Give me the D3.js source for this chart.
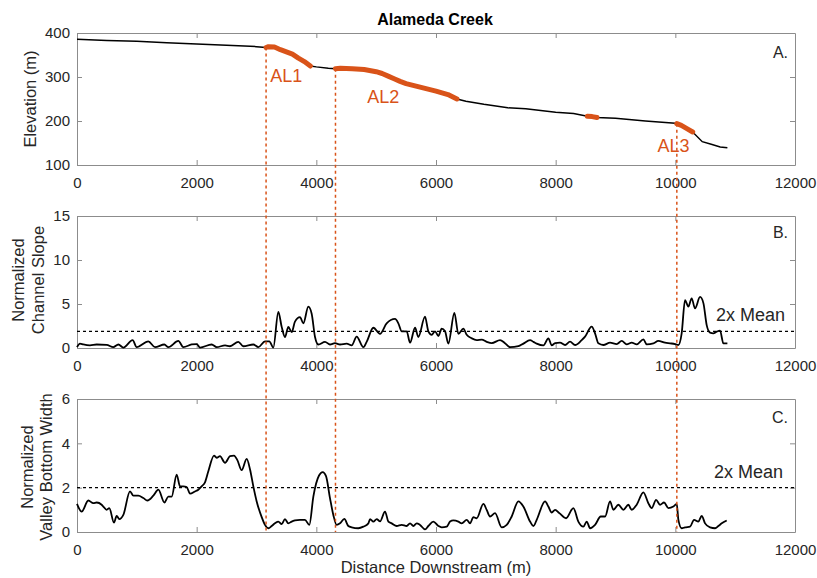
<!DOCTYPE html>
<html><head><meta charset="utf-8">
<script src="https://cdn.jsdelivr.net/npm/d3@7"></script>
<style>
body{margin:0;background:#fff}
svg{display:block}
text{font-family:"Liberation Sans",Arial,Helvetica,sans-serif}
</style>
</head><body>
<svg id="chart" width="817" height="578"></svg>
<script>
// ---------- DATA ----------
const title = "Alameda Creek";
const xTicks = [0, 2000, 4000, 6000, 8000, 10000, 12000];
const elevTicks = [100, 200, 300, 400];
const slopeTicks = [0, 5, 10, 15];
const widthTicks = [0, 2, 4, 6];

const elevDist = [0,500,1000,1500,2000,2500,3000,3160,3200,3300,3400,3500,3600,3700,3800,3900,4000,4200,4320,4400,4600,4800,5000,5100,5200,5300,5400,5500,5700,5850,6000,6100,6200,6350,6500,6800,7200,7500,8000,8300,8530,8610,8690,9000,9500,10000,10025,10100,10200,10290,10450,10600,10750,10870];
const elevation = [386,383,381,378,375,372,369,367,369,368,362,357,352,343,335,325,323,320,319,320,319,317,312,308,302,296,290,285,278,273,268,264,260,250,245,238,230,228,220,217,211,210,208,206,200,195,194,190,182,175,153,147,141,139];

const alStart = [3160, 4320, 8530, 10025];
const alEnd   = [3900, 6350, 8690, 10290];
const alNames = ["AL1", "AL2", "AL3"];
const alNameDist = [3230, 4850, 9700];
const alNameElev = [289, 241, 130];
const knickDist = [3160, 4320, 10025];

const slopeDist = [0,50,106,217,329,496,607,691,774,930,997,1192,1304,1460,1526,1694,1777,1916,2000,2056,2251,2334,2474,2557,2696,2780,2947,3031,3142,3214,3281,3365,3421,3476,3532,3588,3643,3727,3783,3866,3922,3978,4033,4145,4228,4312,4396,4507,4591,4674,4786,4841,4953,5064,5175,5315,5371,5427,5510,5566,5650,5705,5816,5872,5928,5984,6040,6095,6151,6207,6307,6374,6457,6513,6597,6680,6764,6847,6931,7070,7153,7237,7377,7460,7572,7628,7683,7795,7878,7934,7990,8073,8157,8240,8324,8435,8491,8602,8658,8714,8797,8909,9020,9104,9187,9271,9354,9466,9521,9633,9716,9828,9912,9995,10050,10106,10162,10217,10273,10329,10413,10469,10524,10580,10636,10691,10747,10803,10870];
const slopeValues = [0.1,0.5,0.4,0.3,0.4,0.35,0.1,0.4,0.05,0.9,0.1,0.75,0.1,0.4,0.1,0.8,0.1,0.4,0.45,0.05,0.4,0.1,0.3,0.2,0.7,0.2,0.4,0.1,0.75,0.75,0.05,4.1,2.4,1.25,2.4,1.8,3.0,3.5,2.8,4.7,3.9,1.25,0.4,0.7,0.4,0.55,0.4,0.5,0.3,1.3,0.1,0.7,2.3,1.6,2.8,3.3,2.8,1.9,1.9,0.6,2.3,1.25,3.56,1.9,1.5,1.9,1.36,2.2,1.9,0.5,4.0,1.6,2.2,1.5,1.1,0.9,0.95,0.7,0.55,0.9,0.55,0.1,0.2,0.5,0.9,0.7,0.5,0.3,1.1,0.3,0.55,0.6,0.34,0.72,0.34,0.9,1.29,2.42,1.67,0.53,0.34,0.6,0.45,0.8,0.42,0.6,0.42,0.98,0.42,0.53,0.8,0.6,0.53,0.45,0.34,1.67,5.45,4.7,5.65,4.5,5.8,5.1,2.6,1.75,1.67,1.86,1.97,0.53,0.53];
const slopeMean2x = 1.9;

const widthDist = [0,78,189,273,329,412,440,496,540,618,663,708,774,886,942,1025,1109,1176,1276,1360,1460,1526,1582,1666,1722,1777,1833,1889,1972,2028,2084,2139,2195,2290,2334,2390,2474,2557,2624,2680,2752,2836,2892,2947,3003,3087,3142,3198,3254,3309,3365,3421,3476,3532,3588,3643,3727,3810,3883,3950,4045,4106,4162,4228,4284,4340,4396,4468,4535,4591,4702,4786,4870,4898,4953,5009,5065,5148,5204,5260,5343,5427,5510,5566,5622,5677,5733,5817,5872,5956,6040,6095,6179,6235,6290,6374,6430,6513,6569,6625,6680,6792,6847,6903,6987,7098,7182,7265,7377,7460,7572,7628,7683,7823,7878,7934,7990,8062,8173,8296,8379,8463,8519,8575,8658,8753,8826,8909,8965,9048,9132,9215,9271,9354,9466,9549,9605,9678,9744,9811,9884,9967,10023,10051,10106,10162,10246,10313,10385,10441,10497,10580,10664,10720,10776,10859];
const widthValues = [1.27,0.92,1.42,1.3,1.33,1.23,1.15,1.0,1.08,0.42,0.73,0.58,0.77,1.83,1.64,1.64,1.53,1.42,1.64,1.91,1.33,1.6,1.6,2.59,2.06,2.06,2.03,1.73,1.83,1.91,2.06,2.24,2.74,3.45,3.35,3.42,3.12,3.42,3.45,3.24,2.79,3.3,2.82,2.06,1.38,0.67,0.32,0.17,0.27,0.39,0.47,0.36,0.58,0.39,0.47,0.52,0.55,0.55,0.32,1.6,2.55,2.7,2.52,1.53,0.77,0.32,0.39,0.59,0.27,0.21,0.17,0.24,0.39,0.58,0.47,0.58,0.48,0.92,0.47,0.39,0.27,0.32,0.27,0.39,0.27,0.39,0.32,0.12,0.27,0.47,0.27,0.21,0.24,0.47,0.52,0.47,0.39,0.55,0.39,0.67,0.62,1.27,1.0,0.7,0.85,0.21,0.32,0.7,1.38,1.15,0.47,0.27,0.55,1.38,1.15,0.88,1.0,0.85,0.62,1.08,0.47,0.24,0.47,0.17,0.32,0.7,0.7,1.38,1.0,1.23,1.0,1.23,1.0,1.23,1.79,1.3,1.08,1.45,1.23,1.33,1.08,1.15,1.27,0.55,0.17,0.21,0.24,0.55,0.47,0.73,0.39,0.21,0.17,0.27,0.39,0.52];
const widthMean2x = 2.0;

// ---------- LAYOUT ----------
const orange = "#D95319";
const frameCol = "#8c8c8c";
const textCol = "#262626";
const L = 77, R = 795;
const pA = {top: 33, bottom: 165};
const pB = {top: 216, bottom: 348};
const pC = {top: 399, bottom: 532};

const svg = d3.select("#chart");
const x = d3.scaleLinear().domain([0, 12000]).range([L, R]);
const yA = d3.scaleLinear().domain([100, 400]).range([pA.bottom, pA.top]);
const yB = d3.scaleLinear().domain([0, 15]).range([pB.bottom, pB.top]);
const yC = d3.scaleLinear().domain([0, 6]).range([pC.bottom, pC.top]);
const fmt = d3.format("d");

function styleAxis(g, labels) {
  g.select(".domain").attr("stroke", frameCol).attr("stroke-width", 1);
  g.selectAll(".tick line").attr("stroke", frameCol);
  g.selectAll(".tick text").attr("fill", textCol).style("font-size", "15px")
    .style("font-family", '"Liberation Sans",Arial,sans-serif');
  if (!labels) g.selectAll(".tick text").remove();
}

function drawFrame(y, yTicks, p) {
  const g = svg.append("g");
  g.append("g").attr("transform", `translate(0,${p.bottom})`)
    .call(d3.axisBottom(x).tickValues(xTicks).tickFormat(fmt).tickSizeInner(-5).tickSizeOuter(0).tickPadding(12))
    .call(s => styleAxis(s, true));
  g.append("g").attr("transform", `translate(0,${p.top})`)
    .call(d3.axisTop(x).tickValues(xTicks.slice(1, -1)).tickSizeInner(-5).tickSizeOuter(0))
    .call(s => styleAxis(s, false));
  g.append("g").attr("transform", `translate(${L},0)`)
    .call(d3.axisLeft(y).tickValues(yTicks).tickFormat(fmt).tickSizeInner(-5).tickSizeOuter(0).tickPadding(7))
    .call(s => styleAxis(s, true));
  g.append("g").attr("transform", `translate(${R},0)`)
    .call(d3.axisRight(y).tickValues(yTicks.slice(1, -1)).tickSizeInner(-5).tickSizeOuter(0))
    .call(s => styleAxis(s, false));
}

drawFrame(yA, elevTicks, pA);
drawFrame(yB, slopeTicks, pB);
drawFrame(yC, widthTicks, pC);

// ---------- Panel A ----------
const elevData = elevDist.map((d, i) => ({d, v: elevation[i]}));
const lineA = d3.line().x(p => x(p.d)).y(p => yA(p.v));
svg.append("path").datum(elevData).attr("d", lineA)
  .attr("fill", "none").attr("stroke", "#000").attr("stroke-width", 1.5);
alStart.forEach((s, i) => {
  const seg = elevData.filter(p => p.d >= s && p.d <= alEnd[i]);
  svg.append("path").datum(seg).attr("d", lineA)
    .attr("fill", "none").attr("stroke", orange).attr("stroke-width", 5)
    .attr("stroke-linecap", "round").attr("stroke-linejoin", "round");
});

// ---------- Panel B ----------
const slopeData = slopeDist.map((d, i) => ({d, v: slopeValues[i]}));
svg.append("path").datum(slopeData)
  .attr("d", d3.line().x(p => x(p.d)).y(p => yB(p.v)).curve(d3.curveMonotoneX))
  .attr("fill", "none").attr("stroke", "#000").attr("stroke-width", 1.8);
svg.append("line").attr("x1", L).attr("x2", R).attr("y1", yB(slopeMean2x)).attr("y2", yB(slopeMean2x))
  .attr("stroke", "#000").attr("stroke-width", 1.3).attr("stroke-dasharray", "3,3");

// ---------- Panel C ----------
const widthData = widthDist.map((d, i) => ({d, v: widthValues[i]}));
svg.append("path").datum(widthData)
  .attr("d", d3.line().x(p => x(p.d)).y(p => yC(p.v)).curve(d3.curveMonotoneX))
  .attr("fill", "none").attr("stroke", "#000").attr("stroke-width", 1.8);
svg.append("line").attr("x1", L).attr("x2", R).attr("y1", yC(widthMean2x)).attr("y2", yC(widthMean2x))
  .attr("stroke", "#000").attr("stroke-width", 1.3).attr("stroke-dasharray", "3,3");

// ---------- knickpoint lines ----------
knickDist.forEach(k => {
  const e = elevData.find(p => p.d === k).v;
  svg.append("line").attr("x1", x(k)).attr("x2", x(k)).attr("y1", yA(e)).attr("y2", pC.bottom)
    .attr("stroke", orange).attr("stroke-width", 1.5).attr("stroke-dasharray", "3,3");
});

// ---------- text ----------
svg.append("text").attr("x", 435).attr("y", 25).attr("text-anchor", "middle")
  .style("font-size", "16px").style("font-weight", "bold").attr("fill", "#000").text(title);

alNames.forEach((n, i) => {
  svg.append("text").attr("x", x(alNameDist[i])).attr("y", yA(alNameElev[i]))
    .style("font-size", "18px").attr("fill", orange).text(n);
});

function panelLetter(t, yPos) {
  svg.append("text").attr("x", 788).attr("y", yPos).attr("text-anchor", "end")
    .style("font-size", "16px").attr("fill", textCol).text(t);
}
panelLetter("A.", 58);
panelLetter("B.", 238);
panelLetter("C.", 423);

svg.append("text").attr("x", 785).attr("y", 321).attr("text-anchor", "end")
  .style("font-size", "18px").attr("fill", textCol).text("2x Mean");
svg.append("text").attr("x", 783).attr("y", 478).attr("text-anchor", "end")
  .style("font-size", "18px").attr("fill", textCol).text("2x Mean");

function yLabel(lines, xs, cy) {
  lines.forEach((t, i) => {
    svg.append("text").attr("transform", `translate(${xs[i]},${cy}) rotate(-90)`)
      .attr("text-anchor", "middle").style("font-size", "16.5px").attr("fill", textCol).text(t);
  });
}
yLabel(["Elevation (m)"], [36], 99);
yLabel(["Normalized", "Channel Slope"], [24, 44], 280);
yLabel(["Normalized", "Valley Bottom Width"], [33, 52], 467);

svg.append("text").attr("x", 436).attr("y", 573).attr("text-anchor", "middle")
  .style("font-size", "16.5px").attr("fill", textCol).text("Distance Downstream (m)");
</script>
</body></html>
